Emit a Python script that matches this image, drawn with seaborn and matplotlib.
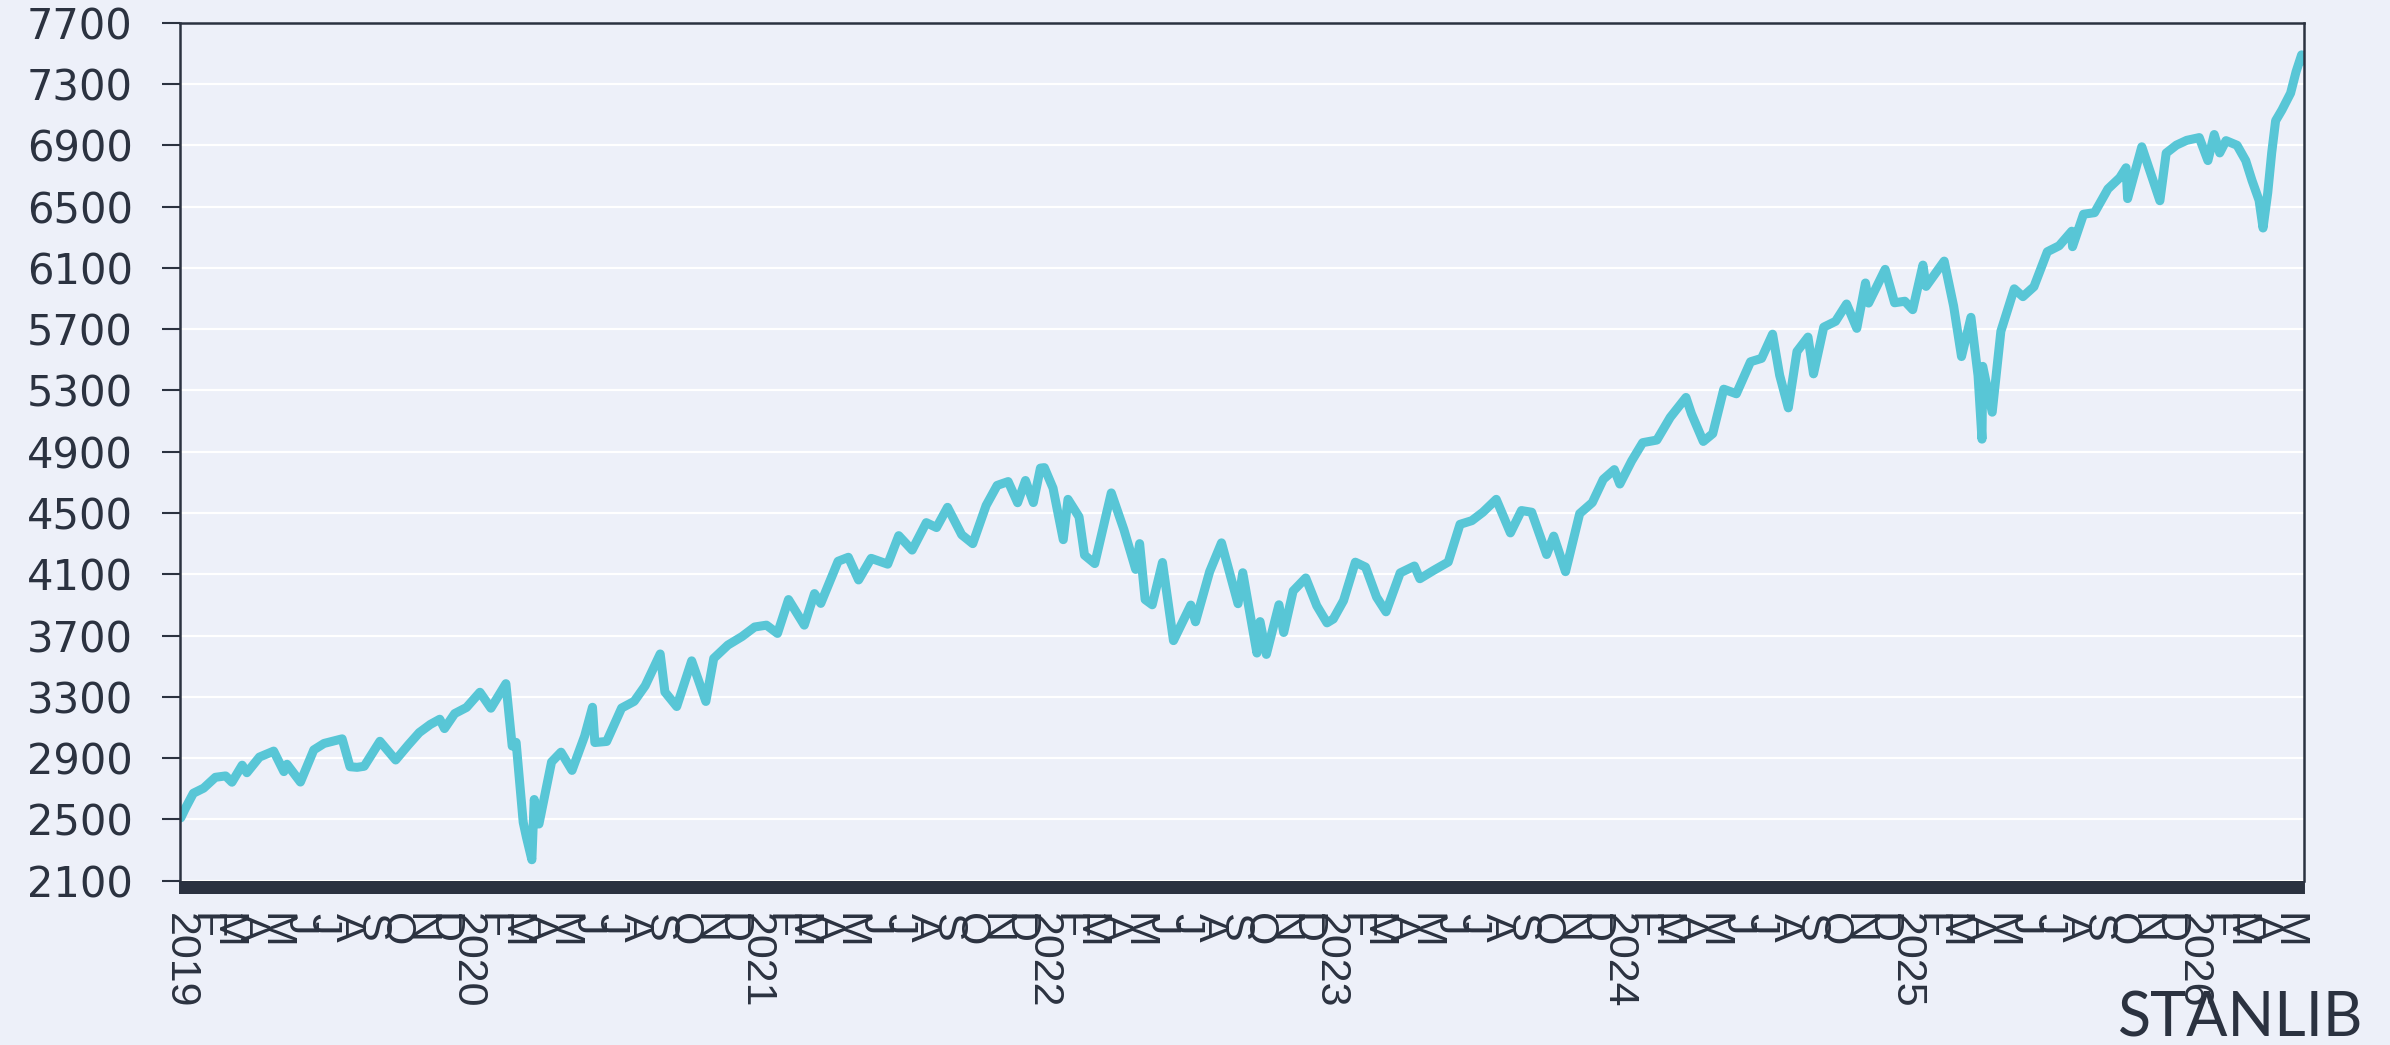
import pandas as pd
import seaborn as sns
import matplotlib
matplotlib.use("Agg")
import matplotlib.pyplot as plt
import matplotlib.dates as mdates
from matplotlib import font_manager
from matplotlib.ticker import FuncFormatter

# index level (roughly two points a month, plus the turning points)
dates = [
    # 2019
    "2019-01-02", "2019-01-08", "2019-01-18", "2019-01-31", "2019-02-15", "2019-02-28",
    "2019-03-08", "2019-03-21", "2019-03-27", "2019-04-12", "2019-04-30", "2019-05-13",
    "2019-05-17", "2019-06-03", "2019-06-20", "2019-07-03", "2019-07-26", "2019-08-05",
    "2019-08-14", "2019-08-23", "2019-09-12", "2019-10-02", "2019-10-18", "2019-11-01",
    "2019-11-15", "2019-11-27", "2019-12-03", "2019-12-16", "2019-12-31",
    # 2020
    "2020-01-17", "2020-01-31", "2020-02-19", "2020-02-27", "2020-03-03", "2020-03-12",
    "2020-03-16", "2020-03-23", "2020-03-26", "2020-04-01", "2020-04-17", "2020-04-29",
    "2020-05-13", "2020-05-29", "2020-06-08", "2020-06-11", "2020-06-26", "2020-07-15",
    "2020-07-31", "2020-08-14", "2020-09-02", "2020-09-08", "2020-09-23", "2020-10-12",
    "2020-10-30", "2020-11-09", "2020-11-27", "2020-12-15", "2020-12-31",
    # 2021
    "2021-01-15", "2021-01-29", "2021-02-12", "2021-03-04", "2021-03-17", "2021-03-25",
    "2021-04-16", "2021-04-29", "2021-05-12", "2021-05-28", "2021-06-18", "2021-07-02",
    "2021-07-19", "2021-08-06", "2021-08-19", "2021-09-02", "2021-09-20", "2021-10-04",
    "2021-10-21", "2021-11-04", "2021-11-18", "2021-11-30", "2021-12-10", "2021-12-20",
    "2021-12-29",
    # 2022
    "2022-01-03", "2022-01-14", "2022-01-27", "2022-02-02", "2022-02-16", "2022-02-23",
    "2022-03-08", "2022-03-29", "2022-04-14", "2022-04-29", "2022-05-04", "2022-05-11",
    "2022-05-20", "2022-06-02", "2022-06-16", "2022-07-08", "2022-07-14", "2022-08-01",
    "2022-08-16", "2022-09-06", "2022-09-12", "2022-09-30", "2022-10-04", "2022-10-12",
    "2022-10-28", "2022-11-03", "2022-11-15", "2022-12-01", "2022-12-15", "2022-12-28",
    # 2023
    "2023-01-05", "2023-01-18", "2023-02-02", "2023-02-15", "2023-03-01", "2023-03-13",
    "2023-03-31", "2023-04-18", "2023-04-25", "2023-05-12", "2023-05-31", "2023-06-15",
    "2023-06-30", "2023-07-14", "2023-07-31", "2023-08-18", "2023-09-01", "2023-09-14",
    "2023-10-03", "2023-10-12", "2023-10-27", "2023-11-14", "2023-11-30", "2023-12-14",
    "2023-12-28",
    # 2024
    "2024-01-04", "2024-01-19", "2024-02-02", "2024-02-20", "2024-03-08", "2024-03-28",
    "2024-04-04", "2024-04-19", "2024-05-01", "2024-05-15", "2024-05-31", "2024-06-18",
    "2024-07-02", "2024-07-16", "2024-07-25", "2024-08-05", "2024-08-16", "2024-08-30",
    "2024-09-06", "2024-09-19", "2024-10-04", "2024-10-18", "2024-10-31", "2024-11-11",
    "2024-11-15", "2024-12-06", "2024-12-18", "2024-12-31",
    # 2025
    "2025-01-10", "2025-01-23", "2025-01-27", "2025-02-19", "2025-03-03", "2025-03-13",
    "2025-03-25", "2025-04-03", "2025-04-08", "2025-04-09", "2025-04-21", "2025-05-02",
    "2025-05-19", "2025-05-30", "2025-06-13", "2025-06-30", "2025-07-15", "2025-07-31",
    "2025-08-01", "2025-08-15", "2025-08-29", "2025-09-15", "2025-09-30", "2025-10-08",
    "2025-10-10", "2025-10-28", "2025-11-20", "2025-11-28", "2025-12-11", "2025-12-24",
    # 2026
    "2026-01-09", "2026-01-20", "2026-01-28", "2026-02-04", "2026-02-12", "2026-02-26",
    "2026-03-09", "2026-03-17", "2026-03-26", "2026-03-31", "2026-04-06", "2026-04-11",
    "2026-04-16", "2026-04-24", "2026-05-05", "2026-05-12", "2026-05-19", "2026-05-22",
]

values = [
    # 2019
    2510, 2574, 2671, 2704, 2775, 2784, 2743, 2854, 2805, 2907, 2946, 2812,
    2860, 2744, 2954, 2996, 3026, 2844, 2840, 2847, 3010, 2888, 2986, 3067,
    3120, 3154, 3093, 3191, 3231,
    # 2020
    3330, 3226, 3386, 2979, 3003, 2481, 2386, 2237, 2630, 2470, 2875, 2939,
    2820, 3044, 3232, 3002, 3009, 3227, 3271, 3373, 3580, 3332, 3237, 3535,
    3270, 3551, 3638, 3694, 3756,
    # 2021
    3768, 3714, 3935, 3768, 3974, 3910, 4185, 4211, 4063, 4204, 4166, 4352,
    4258, 4437, 4405, 4537, 4358, 4300, 4549, 4680, 4705, 4567, 4712, 4568,
    4793,
    # 2022
    4796, 4662, 4326, 4589, 4475, 4225, 4170, 4631, 4392, 4132, 4300, 3935,
    3901, 4177, 3667, 3899, 3790, 4118, 4305, 3908, 4110, 3586, 3791, 3577,
    3901, 3720, 3991, 4076, 3895, 3783,
    # 2023
    3808, 3928, 4179, 4147, 3951, 3855, 4109, 4154, 4071, 4124, 4180, 4426,
    4450, 4505, 4589, 4370, 4516, 4505, 4229, 4349, 4117, 4496, 4568, 4720,
    4783,
    # 2024
    4689, 4840, 4959, 4976, 5124, 5254, 5147, 4967, 5018, 5308, 5278, 5487,
    5509, 5667, 5399, 5186, 5554, 5648, 5408, 5713, 5751, 5864, 5705, 6001,
    5870, 6090, 5872, 5882,
    # 2025
    5827, 6118, 5979, 6144, 5850, 5521, 5777, 5397, 4982, 5457, 5158, 5686,
    5963, 5912, 5977, 6205, 6244, 6339, 6238, 6450, 6460, 6615, 6688, 6753,
    6552, 6890, 6538, 6849, 6901, 6932,
    # 2026
    6950, 6800, 6970, 6850, 6930, 6900, 6800, 6670, 6540, 6360, 6590, 6850,
    7060, 7130, 7240, 7380, 7490, 7450,
]

y_ticks = list(range(2100, 7701, 400))
month_letters = ["J", "F", "M", "A", "M", "J", "J", "A", "S", "O", "N", "D"]
brand = "STANLIB"

bg = "#EDF0F9"
line_col = "#58C6D6"
dark = "#2B3240"

df = pd.DataFrame({"date": pd.to_datetime(dates), "level": values})

sns.set_theme(style="white", rc={"axes.facecolor": bg, "figure.facecolor": bg})
plt.rcParams["font.family"] = ["Liberation Sans", "DejaVu Sans"]

# narrow face for the squeezed rotated date labels, if it is there
try:
    font_manager.findfont("Liberation Sans Narrow", fallback_to_default=False)
    x_font, x_size = "Liberation Sans Narrow", 38
except ValueError:
    x_font, x_size = "Liberation Sans", 31

fig, ax = plt.subplots(figsize=(23.9, 10.45), dpi=100)
fig.subplots_adjust(left=0.0753, right=0.964, top=0.9783, bottom=0.1572)

sns.lineplot(data=df, x="date", y="level", color=line_col, linewidth=6.5, ax=ax)

ax.set_ylim(2100, 7700)
ax.set_yticks(y_ticks)
ax.set_xlim(pd.Timestamp("2019-01-01"), df["date"].iloc[-1])
ax.set_xlabel("")
ax.set_ylabel("")

ax.grid(axis="y", color="white", linewidth=1.6)
ax.grid(axis="x", visible=False)
ax.set_axisbelow(True)

for side in ["left", "top", "right"]:
    ax.spines[side].set_color(dark)
    ax.spines[side].set_linewidth(1.8)
ax.spines["bottom"].set_visible(False)

# month ticks: year on January, initial otherwise
ax.xaxis.set_major_locator(mdates.MonthLocator())
ax.xaxis.set_major_formatter(FuncFormatter(
    lambda v, pos: str(mdates.num2date(v).year) if mdates.num2date(v).month == 1
    else month_letters[mdates.num2date(v).month - 1]))
# daily ticks make the dark band under the plot
ax.xaxis.set_minor_locator(mdates.DayLocator(interval=1))

ax.tick_params(axis="x", which="both", direction="out", bottom=True, length=9.5,
               color=dark, width=1.4)
ax.tick_params(axis="x", which="major", pad=13.5, labelrotation=270,
               labelsize=x_size, labelcolor=dark)
ax.tick_params(axis="y", which="major", direction="out", left=True, length=13,
               width=1.5, color=dark, pad=21, labelsize=30, labelcolor=dark)

for lab in ax.get_xticklabels():
    lab.set_family(x_font)
for lab in ax.get_yticklabels():
    lab.set_family("DejaVu Sans")

fig.text(0.989, 0.008, brand, ha="right", va="baseline", fontsize=44,
         family="Lato", color=dark)

fig.savefig("out.png", dpi=100, facecolor=bg)
